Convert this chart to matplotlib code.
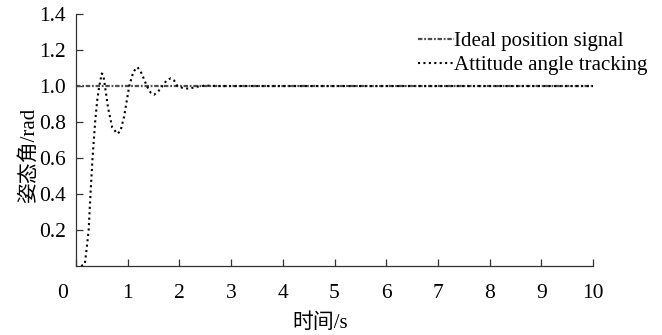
import matplotlib.pyplot as plt
import matplotlib.transforms as mtransforms

plt.rcParams['font.family'] = ['Liberation Serif', 'Noto Sans CJK SC']
plt.rcParams['axes.unicode_minus'] = False

# ideal position command (rad)
t_ideal = [0, 10]
ideal = [1.0, 1.0]

# attitude angle response read from the simulation (s, rad)
t_track = [0.10, 0.17, 0.20, 0.245, 0.28, 0.32, 0.37, 0.41, 0.45, 0.50, 0.53,
           0.56, 0.62, 0.70, 0.80, 0.86, 0.93, 1.03, 1.11, 1.19, 1.27, 1.37,
           1.44, 1.51, 1.59, 1.67, 1.75, 1.83, 1.90, 1.96, 2.06, 2.18, 2.32,
           2.50, 2.70, 10.0]
track = [0.0, 0.01, 0.08, 0.20, 0.40, 0.60, 0.80, 0.92, 1.00, 1.07, 1.06,
         1.00, 0.88, 0.77, 0.735, 0.75, 0.83, 1.00, 1.08, 1.105, 1.07, 1.00,
         0.965, 0.952, 0.97, 1.00, 1.03, 1.043, 1.03, 1.00, 0.99, 0.985, 0.995,
         1.003, 1.0, 1.0]

xticks = list(range(0, 11))
yticks = [0.2, 0.4, 0.6, 0.8, 1.0, 1.2, 1.4]

fig = plt.figure(figsize=(6.62, 3.35), dpi=100)
ax = fig.add_axes([0.1148, 0.206, 0.781, 0.752])

ax.plot(t_ideal, ideal, color='0.3', lw=1.6, linestyle=(0, (2, 0.8, 0.8, 0.8)),
        label='Ideal position signal')
ax.plot(t_track, track, color='black', lw=1.5, linestyle=(0, (1, 1.6)),
        label='Attitude angle tracking')

ax.set_xlim(0, 10)
ax.set_ylim(0, 1.4)
ax.set_xticks(xticks)
ax.set_yticks(yticks)
ax.set_yticklabels([f'{v:.1f}' for v in yticks])

for side in ('top', 'right'):
    ax.spines[side].set_visible(False)
for side in ('left', 'bottom'):
    ax.spines[side].set_linewidth(0.9)
    ax.spines[side].set_color('0.2')

ax.tick_params(axis='both', direction='in', length=5, width=0.9,
               color='0.2', labelsize=15.5)
ax.tick_params(axis='x', pad=13)
ax.tick_params(axis='y', pad=7)

# the origin label sits slightly left of the axis corner
zero_lbl = ax.get_xticklabels()[0]
zero_lbl.set_transform(zero_lbl.get_transform() +
                       mtransforms.ScaledTranslation(-13 / 100, 0, fig.dpi_scale_trans))

ax.set_xlabel('时间/s', fontsize=15)
ax.set_ylabel('姿态角/rad', fontsize=15)
ax.xaxis.set_label_coords(0.473, -0.188)
ax.yaxis.set_label_coords(-0.0725, 0.44)

ax.legend(loc='upper left', bbox_to_anchor=(0.631, 0.905),
          bbox_transform=fig.transFigure, frameon=False,
          fontsize=15, handlelength=1.75, handletextpad=0.0,
          labelspacing=0.2, borderaxespad=0, borderpad=0)

fig.savefig('out.png', dpi=100)
